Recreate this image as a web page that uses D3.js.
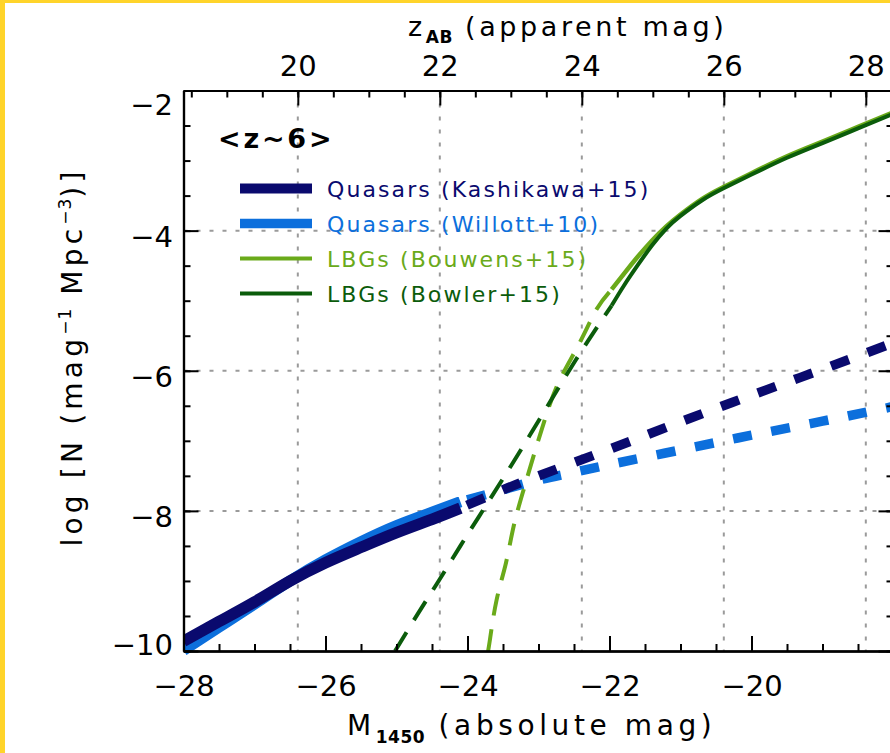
<!DOCTYPE html>
<html>
<head>
<meta charset="utf-8">
<script src="https://cdn.jsdelivr.net/npm/d3@7"></script>
<style>
  html, body { margin: 0; padding: 0; background: #fff; }
  svg { display: block; font-family: "DejaVu Sans", sans-serif; }
</style>
</head>
<body>
<svg id="chart" width="890" height="753"></svg>
<script>
// Quasar luminosity functions at z~6 (solid = observed range, dashed = extrapolation)
const kashSolidM    = [-28, -27.5, -27, -26.5, -26, -25.5, -25, -24.5, -24.1];
const kashSolidLogN = [-9.86, -9.58, -9.30, -9.00, -8.74, -8.52, -8.31, -8.12, -7.96];
const kashDashM     = [-24.1, -23.5, -23, -22, -21, -20, -19, -18];
const kashDashLogN  = [-7.96, -7.70, -7.50, -7.12, -6.73, -6.35, -5.98, -5.60];

const willSolidM    = [-28, -27.5, -27, -26.5, -26, -25.5, -25, -24.5, -24.1];
const willSolidLogN = [-9.99, -9.66, -9.33, -9.00, -8.70, -8.44, -8.21, -8.02, -7.87];
const willDashM     = [-24.1, -23.5, -23, -22.5, -22, -21, -20, -19, -18];
const willDashLogN  = [-7.87, -7.70, -7.56, -7.45, -7.34, -7.13, -6.92, -6.72, -6.51];

// Lyman-break galaxy luminosity functions
const bouwSolidM    = [-21.97, -21.8, -21.6, -21.4, -21.2, -21.0, -20.7, -20.4, -20, -19.5, -19, -18.5, -18];
const bouwSolidLogN = [-4.84, -4.62, -4.37, -4.14, -3.94, -3.77, -3.55, -3.38, -3.18, -2.94, -2.73, -2.52, -2.31];
const bouwDashM     = [-23.71, -23.68, -23.59, -23.46, -23.35, -23.21, -23.05, -22.88, -22.70, -22.42, -22.18, -21.97];
const bouwDashLogN  = [-10.0, -9.81, -9.27, -8.75, -8.22, -7.70, -7.15, -6.60, -6.13, -5.60, -5.12, -4.84];

const bowlSolidM    = [-21.97, -21.8, -21.6, -21.4, -21.2, -21.0, -20.7, -20.4, -20, -19.5, -19, -18.5, -18];
const bowlSolidLogN = [-5.07, -4.79, -4.49, -4.21, -3.97, -3.79, -3.57, -3.40, -3.20, -2.96, -2.75, -2.54, -2.33];
const bowlDashM     = [-25.02, -24.7, -24.4, -24.1, -23.8, -23.5, -23.2, -22.9, -22.6, -22.3, -21.97];
const bowlDashLogN  = [-10.0, -9.47, -8.99, -8.50, -8.02, -7.54, -7.05, -6.55, -6.05, -5.57, -5.07];

const legendLabels = ["Quasars (Kashikawa+15)", "Quasars (Willott+10)", "LBGs (Bouwens+15)", "LBGs (Bowler+15)"];
const xLabelTicks = [-28, -26, -24, -22, -20];
const xMajorTicks = [-28, -26, -24, -22, -20, -18];
const yMajorTicks = [-10, -8, -6, -4, -2];
const zMajorTicks = [20, 22, 24, 26, 28];
const magOffset = 46.39; // z_AB = M1450 + offset

const colors = { kash: "#0a0a6e", will: "#0c6fdc", bouw: "#6aaa1a", bowl: "#0b5c0b" };

const svg = d3.select("#chart");
const L = 183.5, R = 893.5, T = 90.5, B = 651;

// Page frame strips
svg.append("rect").attr("x", 0).attr("y", 0).attr("width", 890).attr("height", 753).attr("fill", "#fff");
svg.append("rect").attr("x", 0).attr("y", 0).attr("width", 5).attr("height", 753).attr("fill", "#ffd42a");
svg.append("rect").attr("x", 0).attr("y", 0).attr("width", 890).attr("height", 3).attr("fill", "#ffd42a");

const x = d3.scaleLinear().domain([-28, -18]).range([L, R]);
const xTop = d3.scaleLinear().domain([-28 + magOffset, -18 + magOffset]).range([L, R]);
const y = d3.scaleLinear().domain([-10, -2]).range([B, T]);

// Dotted grid
const grid = svg.append("g").attr("stroke", "#9a9a9a").attr("stroke-width", 2).attr("stroke-dasharray", "4,9");
grid.selectAll("line.h").data(yMajorTicks.filter(v => v > -10 && v < -2)).join("line")
  .attr("x1", L).attr("x2", R).attr("y1", d => y(d)).attr("y2", d => y(d));
grid.selectAll("line.v").data(zMajorTicks).join("line")
  .attr("x1", d => xTop(d)).attr("x2", d => xTop(d)).attr("y1", T).attr("y2", B);

// Curves
svg.append("defs").append("clipPath").attr("id", "plotClip")
  .append("rect").attr("x", L).attr("y", 0).attr("width", R - L).attr("height", 753);
const plot = svg.append("g").attr("clip-path", "url(#plotClip)");

const line = d3.line().x(d => x(d[0])).y(d => y(d[1])).curve(d3.curveNatural);
const zipPts = (ms, ls) => ms.map((m, i) => [m, ls[i]]);

function drawCurve(ms, ls, color, width, dash, offset) {
  const p = plot.append("path").datum(zipPts(ms, ls))
    .attr("d", line).attr("fill", "none").attr("stroke", color)
    .attr("stroke-width", width).attr("stroke-linecap", "butt");
  if (dash) p.attr("stroke-dasharray", dash).attr("stroke-dashoffset", offset || 0);
}

drawCurve(willSolidM, willSolidLogN, colors.will, 11);
drawCurve(willDashM, willDashLogN, colors.will, 9.5, "19,20", 32);
drawCurve(kashSolidM, kashSolidLogN, colors.kash, 11.5);
drawCurve(kashDashM, kashDashLogN, colors.kash, 9.5, "19,20", 32);
drawCurve(bouwDashM, bouwDashLogN, colors.bouw, 4, "22,14");
drawCurve(bowlDashM, bowlDashLogN, colors.bowl, 4, "22,14");
drawCurve(bouwSolidM, bouwSolidLogN, colors.bouw, 4.5);
drawCurve(bowlSolidM, bowlSolidLogN, colors.bowl, 4);

// Axes with inward ticks
const minorRange = (a, b, s) => d3.range(a, b + 1e-9, s).map(v => +v.toFixed(2));
const fmt = d => d3.format("d")(d).replace("-", "\u2212");

function styleAxis(g) {
  g.select(".domain").attr("stroke", "#000").attr("stroke-width", 2.2);
  g.selectAll(".tick line").attr("stroke", "#000").attr("stroke-width", 2);
  g.selectAll("text").attr("fill", "#000").attr("font-size", 29).attr("font-family", "DejaVu Sans");
}

const axB = svg.append("g").attr("transform", `translate(0,${B})`)
  .call(d3.axisBottom(x).tickValues(xLabelTicks).tickSize(-15).tickSizeOuter(0).tickFormat(fmt));
axB.call(styleAxis);
axB.selectAll("text").attr("dy", null).attr("y", 45);
svg.append("g").attr("transform", `translate(0,${B})`)
  .call(d3.axisBottom(x).tickValues(xMajorTicks).tickSize(-15).tickSizeOuter(0).tickFormat(""))
  .call(styleAxis);
svg.append("g").attr("transform", `translate(0,${B})`)
  .call(d3.axisBottom(x).tickValues(minorRange(-28, -18, 0.5)).tickSize(-7).tickSizeOuter(0).tickFormat(""))
  .call(styleAxis);

const axT = svg.append("g").attr("transform", `translate(0,${T})`)
  .call(d3.axisTop(xTop).tickValues(zMajorTicks).tickSize(-15).tickSizeOuter(0).tickFormat(fmt));
axT.call(styleAxis);
axT.selectAll("text").attr("dy", null).attr("y", -14.5);
svg.append("g").attr("transform", `translate(0,${T})`)
  .call(d3.axisTop(xTop).tickValues(minorRange(18, 28.5, 0.5).filter(v => xTop(v) >= L)).tickSize(-7).tickSizeOuter(0).tickFormat(""))
  .call(styleAxis);

const axL = svg.append("g").attr("transform", `translate(${L},0)`)
  .call(d3.axisLeft(y).tickValues(yMajorTicks).tickSize(-15).tickSizeOuter(0).tickFormat(fmt));
axL.call(styleAxis);
axL.selectAll(".tick text").attr("x", -10.5).attr("dy", "0.36em")
  .attr("y", d => Math.min(Math.max(5.5, y(-2) + 14 - y(d)), y(-10) - 7 - y(d)) );
svg.append("g").attr("transform", `translate(${L},0)`)
  .call(d3.axisLeft(y).tickValues(minorRange(-10, -2, 0.5)).tickSize(-7).tickSizeOuter(0).tickFormat(""))
  .call(styleAxis);

svg.append("g").attr("transform", `translate(${R},0)`)
  .call(d3.axisRight(y).tickValues(yMajorTicks).tickSize(-15).tickSizeOuter(0).tickFormat(""))
  .call(styleAxis);
svg.append("g").attr("transform", `translate(${R},0)`)
  .call(d3.axisRight(y).tickValues(minorRange(-10, -2, 0.5)).tickSize(-7).tickSizeOuter(0).tickFormat(""))
  .call(styleAxis);

// Axis titles
const topTitle = svg.append("text").attr("x", 408).attr("y", 36)
  .attr("font-size", 27).attr("letter-spacing", 3.6).attr("fill", "#000");
topTitle.append("tspan").text("z");
topTitle.append("tspan").attr("font-size", 17).attr("font-weight", "bold").attr("dy", 7).attr("letter-spacing", 0.5).text("AB");
topTitle.append("tspan").attr("dy", -7).text(" (apparent mag)");

const botTitle = svg.append("text").attr("x", 347).attr("y", 735)
  .attr("font-size", 28).attr("letter-spacing", 4.6).attr("fill", "#000");
botTitle.append("tspan").text("M");
botTitle.append("tspan").attr("font-size", 17).attr("font-weight", "bold").attr("dy", 8).attr("letter-spacing", 0.5).text("1450");
botTitle.append("tspan").attr("dy", -8).text(" (absolute mag)");

const yTitle = svg.append("text").attr("transform", "translate(82,357) rotate(-90)")
  .attr("text-anchor", "middle").attr("font-size", 28).attr("letter-spacing", 4.2).attr("fill", "#000");
yTitle.append("tspan").text("log [N (mag");
yTitle.append("tspan").attr("font-size", 17).attr("dy", -11).attr("letter-spacing", 1).text("\u22121");
yTitle.append("tspan").attr("dy", 11).text(" Mpc");
yTitle.append("tspan").attr("font-size", 17).attr("dy", -11).attr("letter-spacing", 1).text("\u22123");
yTitle.append("tspan").attr("dy", 11).text(")]");

// Redshift tag
svg.append("text").attr("x", 218).attr("y", 148).attr("font-size", 27).attr("font-weight", "bold")
  .attr("letter-spacing", 2.8).attr("fill", "#000").text("<z~6>");

// Legend
const legendColors = [colors.kash, colors.will, colors.bouw, colors.bowl];
const legendWidths = [10, 9.5, 4, 4];
const leg = svg.append("g");
legendLabels.forEach((lab, i) => {
  const cy = 188.5 + i * 35;
  leg.append("line").attr("x1", 240).attr("x2", 312).attr("y1", cy).attr("y2", cy)
    .attr("stroke", legendColors[i]).attr("stroke-width", legendWidths[i]);
  leg.append("text").attr("x", 327).attr("y", cy + 8).attr("font-size", 22).attr("letter-spacing", 2.1)
    .attr("fill", legendColors[i]).text(lab);
});
</script>
</body>
</html>
